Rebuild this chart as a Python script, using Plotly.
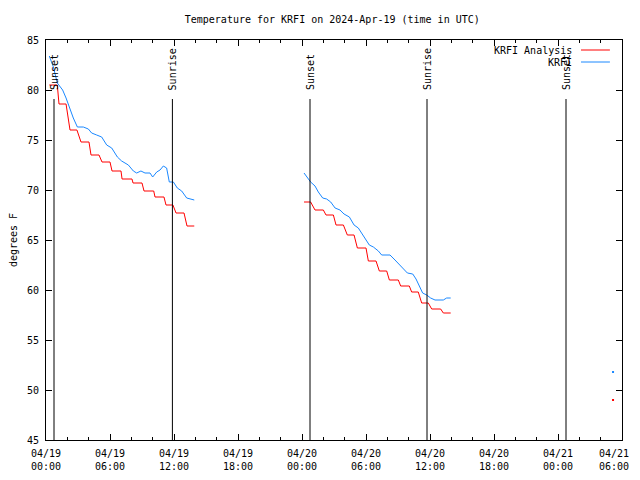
import datetime as dt
import plotly.graph_objects as go

# ---- data (hours since 2024-04-19 00:00 UTC) ----
t0 = dt.datetime(2024, 4, 19, 0, 0)

obs_hours = [0.31, 0.69, 1.06, 1.31, 1.56, 1.88, 2.25, 2.56, 2.94, 3.5, 3.97, 4.28, 4.75,
             5.22, 5.69, 6.16, 6.69, 7.09, 7.72, 8.19, 8.5, 8.9, 9.28, 9.75, 10.0, 10.38,
             10.69, 11.0, 11.31, 11.56, 11.94, 12.31, 12.72, 13.19, 13.9,
             None,
             24.19, 24.5, 24.81, 25.22, 25.53, 25.94, 26.31, 26.69, 27.1, 27.56, 27.94,
             28.44, 28.88, 29.28, 29.69, 30.0, 30.31, 30.69, 31.16, 31.47, 32.25, 32.72,
             33.19, 33.5, 33.88, 34.38, 34.69, 35.0, 35.31, 35.69, 36.06, 36.47, 36.94,
             37.25, 37.56, 37.94,
             None,
             53.16]
obs_temp = [83.4, 82.3, 80.7, 80.3, 80.0, 79.2, 78.0, 77.2, 76.3, 76.3, 76.1, 75.7, 75.5,
            75.3, 74.5, 74.2, 73.3, 72.9, 72.5, 71.9, 71.7, 71.9, 71.7, 71.7, 71.3, 71.8,
            72.0, 72.4, 72.2, 70.8, 70.8, 70.2, 69.9, 69.2, 69.0,
            None,
            71.7, 71.2, 70.8, 70.4, 69.8, 69.2, 69.1, 68.8, 68.2, 68.0, 67.6,
            67.3, 66.5, 66.2, 65.5, 65.0, 64.5, 64.3, 63.9, 63.5, 63.5, 63.0,
            62.5, 62.2, 61.7, 61.6, 61.1, 60.4, 59.7, 59.5, 59.2, 59.0, 59.0,
            59.0, 59.2, 59.2,
            None,
            51.8]

ana_hours = [0.31, 1.06, 1.22, 1.88, 2.25, 2.9, 3.28, 4.03, 4.22, 4.97, 5.25, 6.0, 6.19, 7.03,
             7.13, 8.06, 8.16, 9.0, 9.19, 10.1, 10.22, 11.06, 11.25, 11.9, 12.19, 12.94,
             13.22, 13.9,
             None,
             24.19, 24.81, 25.22, 26.0, 26.25, 26.94, 27.19, 27.88, 28.25, 28.88, 29.19, 30.0,
             30.22, 30.94, 31.25, 31.94, 32.19, 33.03, 33.25, 34.06, 34.28, 34.9, 35.22, 35.84,
             36.16, 37.0, 37.25, 37.94,
             None,
             53.16]
ana_temp = [80.5, 80.5, 78.6, 78.6, 76.0, 76.0, 74.8, 74.8, 73.5, 73.5, 72.8, 72.8, 71.9, 71.9,
            71.1, 71.1, 70.7, 70.7, 69.9, 69.9, 69.3, 69.3, 68.5, 68.5, 67.7, 67.7,
            66.4, 66.4,
            None,
            68.8, 68.8, 68.0, 68.0, 67.5, 67.5, 66.5, 66.5, 65.5, 65.5, 64.2, 64.2,
            62.9, 62.9, 61.9, 61.9, 61.0, 61.0, 60.4, 60.4, 59.8, 59.8, 58.7, 58.7,
            58.1, 58.1, 57.7, 57.7,
            None,
            49.0]

event_hours = [0.75, 11.85, 24.75, 35.72, 48.75]
event_labels = ["Sunset", "Sunrise", "Sunset", "Sunrise", "Sunset"]

tick_hours = [0, 6, 12, 18, 24, 30, 36, 42, 48, 54]
tick_labels = ["04/19<br>00:00", "04/19<br>06:00", "04/19<br>12:00", "04/19<br>18:00",
               "04/20<br>00:00", "04/20<br>06:00", "04/20<br>12:00", "04/20<br>18:00",
               "04/21<br>00:00", "04/21<br>06:00"]

series_names = ["KRFI Analysis", "KRFI"]
series_colors = ["#ff0000", "#1a88ff"]

FONT = "DejaVu Sans Mono"


def to_time(hours):
    return [None if h is None else t0 + dt.timedelta(hours=h) for h in hours]


def isolated(xs, ys):
    px, py = [], []
    for i, (x, y) in enumerate(zip(xs, ys)):
        if x is None:
            continue
        prev_gap = i == 0 or xs[i - 1] is None
        next_gap = i == len(xs) - 1 or xs[i + 1] is None
        if prev_gap and next_gap:
            px.append(x)
            py.append(y)
    return px, py


fig = go.Figure()
for hours, temps, name, color in [(ana_hours, ana_temp, series_names[0], series_colors[0]),
                                  (obs_hours, obs_temp, series_names[1], series_colors[1])]:
    xs = to_time(hours)
    fig.add_trace(go.Scatter(x=xs, y=temps, mode="lines", name=name,
                             line=dict(color=color, width=1), connectgaps=False,
                             showlegend=False))
    ix, iy = isolated(xs, temps)
    fig.add_trace(go.Scatter(x=ix, y=iy, mode="markers", showlegend=False,
                             marker=dict(color=color, size=2, symbol="square")))

# sunrise / sunset markers
for h, lab in zip(event_hours, event_labels):
    t = t0 + dt.timedelta(hours=h)
    fig.add_shape(type="line", xref="x", yref="paper", x0=t, x1=t, y0=0, y1=0.8525,
                  line=dict(color="black", width=1))
    fig.add_annotation(x=t, xref="x", y=0.87, yref="paper", text=lab, textangle=-90,
                       showarrow=False, xanchor="center", yanchor="bottom",
                       font=dict(family=FONT, size=10, color="black"))

# legend drawn gnuplot-style (text on left, sample on right)
for i, (name, color) in enumerate(zip(series_names, series_colors)):
    yy = 0.975 - i * 0.03
    fig.add_annotation(x=0.9167, xref="paper", y=yy, yref="paper", text=name,
                       showarrow=False, xanchor="right", yanchor="middle",
                       font=dict(family=FONT, size=10, color="black"))
    fig.add_shape(type="line", xref="paper", yref="paper", x0=0.9288, x1=0.979,
                  y0=yy, y1=yy, line=dict(color=color, width=1))

# the last tick label would be cut at the window edge; draw it right-aligned instead
axis_text = tick_labels[:-1] + [""]
fig.add_annotation(x=to_time([tick_hours[-1]])[0], xref="x", y=0, yref="paper",
                   text=tick_labels[-1], showarrow=False, xanchor="right", xshift=9,
                   yanchor="top", yshift=-6, align="center",
                   font=dict(family=FONT, size=10, color="black"))

# page body has an 8px margin, so the figure is sized to the visible area
fig.update_layout(
    width=632, height=464,
    margin=dict(l=38, r=18, t=32, b=32, autoexpand=False),
    paper_bgcolor="white", plot_bgcolor="white",
    font=dict(family=FONT, size=10, color="black"),
    title=dict(text="Temperature for KRFI on 2024-Apr-19 (time in UTC)",
               xref="paper", x=0.497, xanchor="center", y=0.976, yanchor="middle",
               font=dict(family=FONT, size=10, color="black")),
    showlegend=False,
)
fig.update_xaxes(
    range=[t0, t0 + dt.timedelta(hours=54)],
    tickmode="array",
    tickvals=to_time(tick_hours), ticktext=axis_text,
    ticks="inside", ticklen=6, tickcolor="black", tickwidth=1,
    minor=dict(dtick=2 * 3600 * 1000, ticks="inside", ticklen=3, tickcolor="black",
               tick0=t0, showgrid=False),
    showline=True, linecolor="black", linewidth=1, mirror="allticks",
    showgrid=False, zeroline=False, automargin=False,
    tickfont=dict(family=FONT, size=10),
    ticklabelstandoff=4,
)
fig.update_yaxes(
    range=[45, 85], dtick=5, tick0=45,
    ticks="inside", ticklen=6, tickcolor="black", tickwidth=1,
    showline=True, linecolor="black", linewidth=1, mirror="allticks",
    showgrid=False, zeroline=False, automargin=False,
    tickfont=dict(family=FONT, size=10),
    ticklabelstandoff=4,
    title=dict(text="degrees F", standoff=12, font=dict(family=FONT, size=10)),
)

fig.write_html("out.html")
